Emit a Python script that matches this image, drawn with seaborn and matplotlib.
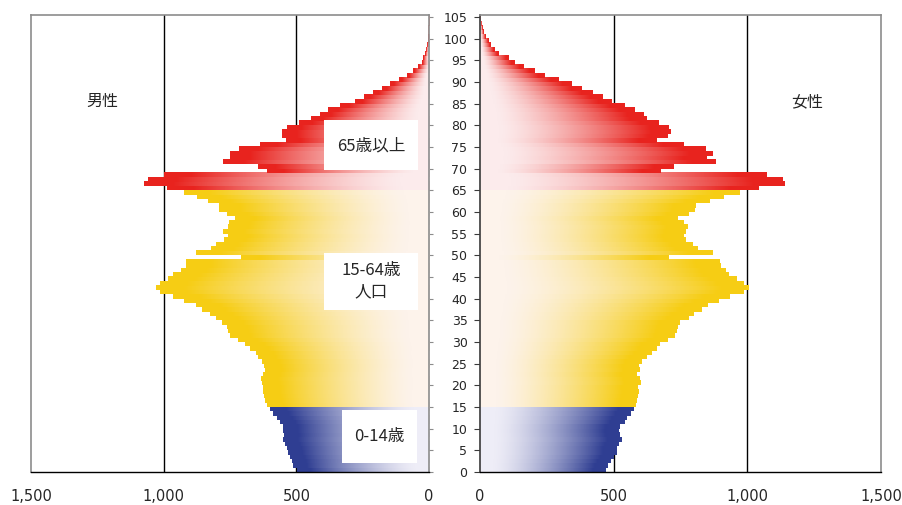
import numpy as np
import pandas as pd
import matplotlib
matplotlib.use("Agg")
import matplotlib.pyplot as plt
import seaborn as sns
from matplotlib.colors import to_rgb
from matplotlib.patches import Rectangle

# population by single year of age (thousands), ages 0..104
ages = list(range(105))
male = [
    499, 512, 518, 524, 530, 537, 543, 549, 547, 549,
    549, 562, 574, 587, 600, 612, 618, 621, 625, 627,
    631, 634, 625, 618, 622, 631, 644, 652, 675, 694,
    719, 750, 757, 763, 782, 803, 826, 857, 879, 925,
    964, 1012, 1029, 1012, 983, 964, 935, 916, 914, 710,
    879, 822, 803, 773, 759, 778, 757, 755, 731, 763,
    791, 791, 833, 876, 922, 989, 1075, 1058, 999, 611,
    645, 777, 750, 750, 716, 637, 540, 553, 553, 535,
    490, 445, 410, 380, 335, 278, 245, 212, 177, 147,
    112, 82, 62, 42, 28, 21, 15, 10, 8, 5,
    4, 3, 2, 1, 0.5,
]
female = [
    469, 478, 488, 499, 510, 511, 518, 529, 522, 519,
    521, 540, 549, 564, 574, 581, 585, 588, 594, 590,
    600, 596, 586, 598, 594, 605, 624, 642, 660, 672,
    702, 729, 736, 740, 748, 781, 800, 828, 852, 894,
    935, 984, 1005, 984, 961, 931, 920, 900, 896, 706,
    868, 815, 796, 770, 760, 768, 778, 762, 740, 781,
    804, 807, 860, 912, 969, 1040, 1138, 1130, 1070, 674,
    725, 882, 849, 871, 845, 762, 661, 702, 714, 706,
    669, 624, 612, 579, 541, 492, 459, 421, 380, 342,
    294, 241, 204, 162, 129, 106, 69, 54, 39, 31,
    20, 12, 9, 5, 2,
]

x_ticks = [0, 500, 1000, 1500]
y_ticks = list(range(0, 106, 5))
label_young = "0-14歳"
label_work = "15-64歳\n人口"
label_old = "65歳以上"

# (pale at the axis, saturated at the bar tip)
shades = {
    "young": ("#EEEDF7", "#2F3E92"),
    "work": ("#FDF3EB", "#F6CD14"),
    "old": ("#FCEBEC", "#E8231E"),
}
CJK = ["Noto Sans CJK JP", "DejaVu Sans"]


def age_group(a):
    if a < 15:
        return "young"
    if a < 65:
        return "work"
    return "old"


df = pd.DataFrame({"age": ages, "male": male, "female": female})
df["group"] = [age_group(a) for a in ages]

sns.set_style("white")
plt.rcParams["font.family"] = ["DejaVu Sans", "Noto Sans CJK JP"]

fig = plt.figure(figsize=(9.02, 5.05), dpi=100)
ax_m = fig.add_axes([31 / 902, 1 - 472 / 505, 398 / 902, 457 / 505])
ax_f = fig.add_axes([480 / 902, 1 - 472 / 505, 401 / 902, 457 / 505])

t = np.linspace(0, 1, 512)
ramp = np.clip((t - 0.1) / 0.8, 0, 1) ** 1.4


def gradient_for(patch):
    fc = np.array(to_rgb(patch.get_facecolor()))
    for pale, sat in shades.values():
        if np.allclose(fc, to_rgb(sat), atol=0.02):
            p, s = np.array(to_rgb(pale)), np.array(to_rgb(sat))
            row = p + (s - p) * ramp[:, None]
            return np.stack([row, row])
    return None


def draw_side(ax, col):
    sns.barplot(data=df, x=col, y="age", hue="group",
                palette={g: c[1] for g, c in shades.items()},
                orient="y", native_scale=True, width=1, dodge=False,
                legend=False, errorbar=None, saturation=1, linewidth=0, ax=ax)
    for v in (500, 1000):
        ax.axvline(v, color="black", lw=1.0, zorder=0.5)
    # gradient fill for each bar, pale at the axis and saturated at the tip
    for patch in list(ax.patches):
        grad = gradient_for(patch)
        if grad is None:
            continue
        x0, y0 = patch.get_x(), patch.get_y()
        w, h = patch.get_width(), patch.get_height()
        ax.imshow(grad, extent=(x0, x0 + w, y0, y0 + h), origin="lower",
                  aspect="auto", interpolation="nearest", zorder=2)
        patch.set_visible(False)
    ax.set_xlabel("")
    ax.set_ylabel("")
    ax.set_ylim(-0.5, 105)
    ax.set_yticks(np.array(y_ticks) - 0.5)
    ax.set_xticks(x_ticks)
    ax.set_xticklabels([f"{v:,}" for v in x_ticks])
    ax.tick_params(axis="x", length=0, pad=12, labelsize=10.5)
    for s in ax.spines.values():
        s.set_color("#8c8c8c")
        s.set_linewidth(1.2)
    ax.spines["bottom"].set_color("black")
    ax.spines["bottom"].set_linewidth(1.0)


draw_side(ax_m, "male")
ax_m.set_xlim(1500, 0)
ax_m.yaxis.tick_right()
ax_m.tick_params(axis="y", right=True, direction="out", length=3,
                 color="#8c8c8c", labelright=False, labelleft=False)

draw_side(ax_f, "female")
ax_f.set_xlim(0, 1500)
ax_f.set_yticklabels([str(v) for v in y_ticks])
ax_f.tick_params(axis="y", left=True, direction="out", length=4, pad=5,
                 labelsize=9, color="#3a3a3a")
ax_f.spines["left"].set_color("#3a3a3a")

ax_m.text(0.178, 0.81, "男性", transform=ax_m.transAxes, ha="center",
          va="center", fontsize=11.5, family=CJK)
ax_f.text(0.816, 0.81, "女性", transform=ax_f.transAxes, ha="center",
          va="center", fontsize=11.5, family=CJK)

boxes = [
    ((0.736, 0.661), 0.236, 0.109, (0.854, 0.714), label_old),
    ((0.736, 0.354), 0.236, 0.126, (0.854, 0.417), label_work),
    ((0.781, 0.020), 0.189, 0.116, (0.876, 0.078), label_young),
]
for (bx, by), bw, bh, (tx, ty), txt in boxes:
    ax_m.add_patch(Rectangle((bx, by), bw, bh, transform=ax_m.transAxes,
                             facecolor="white", edgecolor="none", zorder=4))
    ax_m.text(tx, ty, txt, transform=ax_m.transAxes, ha="center", va="center",
              fontsize=12, family=CJK, linespacing=1.3, zorder=5)

fig.savefig("out.png", dpi=100)
